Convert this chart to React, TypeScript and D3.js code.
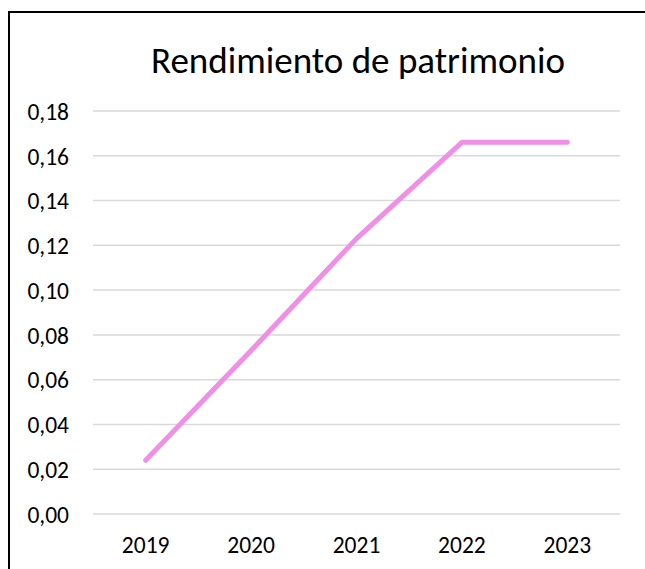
import React, { useEffect, useRef } from "react";
import * as d3 from "d3";

const years = ["2019", "2020", "2021", "2022", "2023"];
const roe = [0.024, 0.073, 0.123, 0.166, 0.166];
const yTicks = [0, 0.02, 0.04, 0.06, 0.08, 0.1, 0.12, 0.14, 0.16, 0.18];
const title = "Rendimiento de patrimonio";

const App = () => {
  const ref = useRef<SVGSVGElement | null>(null);

  useEffect(() => {
    const W = 645;
    const H = 569;
    const svg = d3.select(ref.current);
    svg.selectAll("*").remove();

    const font = "Carlito, Calibri, 'Open Sans', sans-serif";
    const locale = d3.formatLocale({ decimal: ",", thousands: ".", grouping: [3], currency: ["", "€"] });
    const fmt = locale.format(".2f");

    // frame (cropped on right and bottom like the original)
    svg
      .append("rect")
      .attr("x", 9)
      .attr("y", 12)
      .attr("width", W + 20)
      .attr("height", H + 20)
      .attr("fill", "white")
      .attr("stroke", "black")
      .attr("stroke-width", 2);

    const x = d3.scaleBand().domain(years).range([93, 620]);
    const y = d3.scaleLinear().domain([0, 0.18]).range([514, 111]);

    // grid
    svg
      .append("g")
      .selectAll("line")
      .data(yTicks)
      .enter()
      .append("line")
      .attr("x1", 93)
      .attr("x2", 620)
      .attr("y1", (d) => y(d))
      .attr("y2", (d) => y(d))
      .attr("stroke", "#d9d9d9")
      .attr("stroke-width", 1.5);

    // y labels
    svg
      .append("g")
      .selectAll("text")
      .data(yTicks)
      .enter()
      .append("text")
      .attr("x", 69)
      .attr("y", (d) => y(d) + 1)
      .attr("dy", "0.33em")
      .attr("text-anchor", "end")
      .attr("font-family", font)
      .attr("font-size", 23.5)
      .attr("fill", "#000")
      .text((d) => fmt(d));

    // x labels
    svg
      .append("g")
      .selectAll("text")
      .data(years)
      .enter()
      .append("text")
      .attr("x", (d) => (x(d) as number) + x.bandwidth() / 2)
      .attr("y", 553)
      .attr("text-anchor", "middle")
      .attr("font-family", font)
      .attr("font-size", 23.5)
      .attr("fill", "#000")
      .text((d) => d);

    // line
    const line = d3
      .line<number>()
      .x((_, i) => (x(years[i]) as number) + x.bandwidth() / 2)
      .y((d) => y(d));

    svg
      .append("path")
      .datum(roe)
      .attr("d", line)
      .attr("fill", "none")
      .attr("stroke", "#ef8fe6")
      .attr("stroke-width", 5)
      .attr("stroke-linecap", "round")
      .attr("stroke-linejoin", "round");

    // title
    svg
      .append("text")
      .attr("x", 358)
      .attr("y", 73)
      .attr("text-anchor", "middle")
      .attr("font-family", font)
      .attr("font-size", 37)
      .attr("fill", "#000")
      .text(title);
  }, []);

  return (
    <svg
      ref={ref}
      width={645}
      height={569}
      style={{ position: "absolute", left: 0, top: 0 }}
    />
  );
};

export default App;
